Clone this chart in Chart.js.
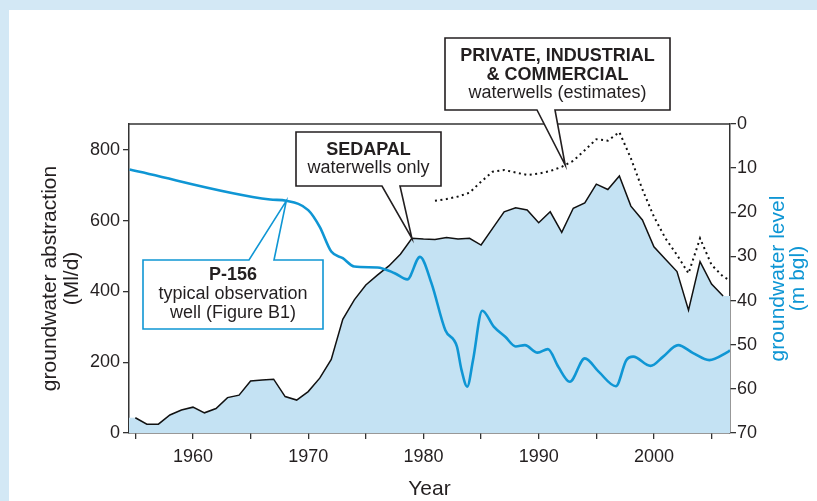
<!DOCTYPE html>
<html>
<head>
<meta charset="utf-8">
<title>Groundwater abstraction and level</title>
<script src="https://cdn.jsdelivr.net/npm/chart.js@4.4.1/dist/chart.umd.min.js"></script>
<style>
  html, body { margin: 0; padding: 0; background: #fff; }
  #wrap { width: 817px; height: 501px; }
</style>
</head>
<body>
<div id="wrap"><canvas id="chart" width="817" height="501"></canvas></div>
<script>
/* =========================
   DATA
========================= */
const sedapalYears = [1955, 1956, 1957, 1958, 1959, 1960, 1961, 1962, 1963, 1964, 1965, 1966, 1967, 1968, 1969, 1970,
  1971, 1972, 1973, 1974, 1975, 1976, 1977, 1978, 1979, 1980, 1981, 1982, 1983, 1984, 1985, 1986, 1987, 1988, 1989,
  1990, 1991, 1992, 1993, 1994, 1995, 1996, 1997, 1998, 1999, 2000, 2001, 2002, 2003, 2004, 2005, 2006];
const sedapalMld = [43, 25, 25, 51, 65, 73, 57, 69, 100, 107, 147, 150, 152, 103, 93, 117,
  155, 208, 321, 376, 418, 446, 472, 505, 550, 548, 547, 552, 548, 550, 531, 578, 625, 636, 630,
  594, 625, 567, 635, 650, 703, 688, 726, 641, 602, 526, 491, 456, 347, 484, 421, 387];

// sedapal + private, industrial & commercial (estimates)
const totalYears = [1981, 1982, 1983, 1984, 1985, 1986, 1987, 1988, 1989, 1990, 1991, 1992, 1993, 1994, 1995, 1996,
  1997, 1998, 1999, 2000, 2001, 2002, 2003, 2004, 2005, 2006, 2006.6];
const totalMld = [656, 661, 668, 679, 710, 738, 743, 736, 729, 733, 740, 752, 769, 799, 830, 826,
  850, 776, 688, 611, 550, 503, 451, 550, 475, 442, 431];

// P-156 observation well, m below ground level
const levelYears = [1954.5, 1966.7, 1968.1, 1970, 1971, 1972, 1973, 1974, 1976, 1977.5, 1978.6, 1979.7, 1980.7,
  1981.9, 1982.9, 1983.3, 1983.8, 1984.3, 1985.1, 1986.1, 1987.1, 1988, 1988.8, 1989.9, 1990.8, 1991.7, 1992.7,
  1994, 1995.2, 1996.7, 1997.6, 1998.2, 1999.7, 2000.8, 2002.1, 2003.4, 2004.8, 2006.3, 2006.6];
const levelMbgl = [10.3, 17.1, 17.4, 19.5, 23.3, 28.9, 30.4, 32.3, 32.5, 33.8, 35.2, 30.1, 36.1,
  46.7, 50.4, 55.7, 59.5, 53.5, 42.3, 45.9, 48.2, 50.4, 50.1, 51.8, 51.0, 55.0, 58.4,
  53.1, 56.1, 59.4, 53.5, 52.7, 54.8, 52.7, 50.1, 51.9, 53.5, 51.8, 51.3];

const yearTicks = [1955, 1960, 1965, 1970, 1975, 1980, 1985, 1990, 1995, 2000, 2005];
const yearLabels = ['1960', '1970', '1980', '1990', '2000'];
const abstractionTicks = [0, 200, 400, 600, 800];
const levelTicks = [0, 10, 20, 30, 40, 50, 60, 70];

const X_MIN = 1954.45, X_MAX = 2006.6;

const INK = '#231f20';
const BLUE = '#0f96d4';
const FONT = '"Liberation Sans", Arial, Helvetica, sans-serif';

const toPoints = (xs, ys) => xs.map((x, i) => ({ x, y: ys[i] }));

// fill under sedapal line runs out to both axes
const sedapalPts = toPoints(sedapalYears, sedapalMld);
const fillPts = [{ x: X_MIN, y: sedapalMld[0] }, ...sedapalPts, { x: X_MAX, y: sedapalMld[sedapalMld.length - 1] }];

/* =========================
   CALLOUT BOXES
========================= */
const callouts = [
  {
    lines: [['SEDAPAL', true], ['waterwells only', false]],
    box: [296, 132, 441, 186], side: 'bottom', base: [382, 400],
    at: [1979, 550], axis: 'y', color: INK, textY: 150, gap: 17.7
  },
  {
    lines: [['PRIVATE, INDUSTRIAL', true], ['& COMMERCIAL', true], ['waterwells (estimates)', false]],
    box: [445, 38, 670, 110], side: 'bottom', base: [537, 555],
    at: [1992.3, 757], axis: 'y', color: INK, textY: 56.5, gap: 18.4
  },
  {
    lines: [['P-156', true], ['typical observation', false], ['well (Figure B1)', false]],
    box: [143, 260, 323, 329], side: 'top', base: [249, 274],
    at: [1968.1, 17.4], axis: 'y2', color: BLUE, textY: 275, gap: 18.9
  }
];

function drawCallout(chart, c) {
  const { ctx } = chart;
  const tipX = chart.scales.x.getPixelForValue(c.at[0]);
  const tipY = chart.scales[c.axis].getPixelForValue(c.at[1]);
  const [l, t, r, b] = c.box;

  ctx.save();
  ctx.beginPath();
  if (c.side === 'bottom') {
    ctx.moveTo(l, t);
    ctx.lineTo(r, t);
    ctx.lineTo(r, b);
    ctx.lineTo(c.base[1], b);
    ctx.lineTo(tipX, tipY);
    ctx.lineTo(c.base[0], b);
    ctx.lineTo(l, b);
  } else {
    ctx.moveTo(l, t);
    ctx.lineTo(c.base[0], t);
    ctx.lineTo(tipX, tipY);
    ctx.lineTo(c.base[1], t);
    ctx.lineTo(r, t);
    ctx.lineTo(r, b);
    ctx.lineTo(l, b);
  }
  ctx.closePath();
  ctx.fillStyle = '#fff';
  ctx.fill();
  ctx.lineWidth = 1.6;
  ctx.lineJoin = 'miter';
  ctx.strokeStyle = c.color;
  ctx.stroke();

  ctx.fillStyle = INK;
  ctx.textAlign = 'center';
  ctx.textBaseline = 'middle';
  const cx = (l + r) / 2;
  c.lines.forEach(([txt, bold], i) => {
    ctx.font = (bold ? 'bold ' : '') + '18px ' + FONT;
    ctx.fillText(txt, cx, c.textY + i * c.gap);
  });
  ctx.restore();
}

const figurePlugin = {
  id: 'figure',
  beforeDraw(chart) {
    const { ctx, width, height } = chart;
    ctx.save();
    ctx.fillStyle = '#d3e8f5';
    ctx.fillRect(0, 0, width, height);
    ctx.fillStyle = '#fff';
    ctx.fillRect(9, 10, width - 9, height - 10);
    ctx.restore();
  },
  afterDraw(chart) {
    const { ctx, chartArea } = chart;
    ctx.save();
    // top frame line
    ctx.strokeStyle = '#333';
    ctx.lineWidth = 1.5;
    ctx.beginPath();
    ctx.moveTo(chartArea.left, chartArea.top);
    ctx.lineTo(chartArea.right, chartArea.top);
    ctx.stroke();

    // right axis title, reading upwards like the left one
    const midY = (chartArea.top + chartArea.bottom) / 2;
    ctx.fillStyle = BLUE;
    ctx.font = '21px ' + FONT;
    ctx.textAlign = 'center';
    ctx.textBaseline = 'middle';
    [['groundwater level', 778], ['(m bgl)', 798]].forEach(([txt, x]) => {
      ctx.save();
      ctx.translate(x, midY);
      ctx.rotate(-Math.PI / 2);
      ctx.fillText(txt, 0, 0);
      ctx.restore();
    });
    ctx.restore();

    callouts.forEach(c => drawCallout(chart, c));
  }
};

const axisGrid = { drawOnChartArea: false, drawTicks: true, tickLength: 6, color: '#333', lineWidth: 1.3 };
const axisBorder = { display: true, color: '#333', width: 1.5 };
const tickFont = { family: FONT, size: 18 };

new Chart(document.getElementById('chart'), {
  type: 'line',
  data: {
    datasets: [
      {
        label: 'P-156 groundwater level',
        data: toPoints(levelYears, levelMbgl),
        yAxisID: 'y2',
        borderColor: BLUE,
        borderWidth: 2.6,
        pointRadius: 0,
        cubicInterpolationMode: 'monotone',
        fill: false
      },
      {
        label: 'SEDAPAL waterwells',
        data: sedapalPts,
        yAxisID: 'y',
        borderColor: '#111',
        borderWidth: 1.5,
        pointRadius: 0,
        tension: 0,
        fill: false
      },
      {
        label: 'incl. private, industrial & commercial',
        data: toPoints(totalYears, totalMld),
        yAxisID: 'y',
        borderColor: '#111',
        borderWidth: 2,
        borderDash: [2, 3.5],
        pointRadius: 0,
        tension: 0,
        fill: false
      },
      {
        label: 'abstraction fill',
        data: fillPts,
        yAxisID: 'y',
        borderWidth: 0,
        borderColor: 'rgba(0,0,0,0)',
        backgroundColor: '#c4e2f3',
        pointRadius: 0,
        tension: 0,
        fill: 'origin'
      }
    ]
  },
  options: {
    responsive: false,
    animation: false,
    devicePixelRatio: 1,
    layout: { padding: { top: 124, left: 0, right: 0, bottom: 0 } },
    plugins: {
      legend: { display: false },
      tooltip: { enabled: false }
    },
    scales: {
      x: {
        type: 'linear',
        min: X_MIN,
        max: X_MAX,
        afterBuildTicks: (s) => { s.ticks = yearTicks.map(v => ({ value: v })); },
        afterFit: (s) => { s.height = 68; },
        grid: axisGrid,
        border: axisBorder,
        ticks: {
          padding: 7,
          color: INK,
          font: tickFont,
          maxRotation: 0,
          autoSkip: false,
          callback: (v) => yearLabels.includes(String(v)) ? String(v) : ''
        },
        title: {
          display: true,
          text: 'Year',
          color: INK,
          font: { family: FONT, size: 21, lineHeight: 1.05 },
          padding: { top: 0, bottom: 1 }
        }
      },
      y: {
        position: 'left',
        min: 0,
        max: 873,
        afterBuildTicks: (s) => { s.ticks = abstractionTicks.map(v => ({ value: v })); },
        afterFit: (s) => { s.width = 129; },
        grid: axisGrid,
        border: axisBorder,
        ticks: { padding: 3, color: INK, font: tickFont },
        title: {
          display: true,
          text: ['groundwater abstraction', '(Ml/d)'],
          color: INK,
          font: { family: FONT, size: 21, lineHeight: 1.05 },
          padding: { top: 39, bottom: 0 }
        }
      },
      y2: {
        position: 'right',
        reverse: true,
        min: 0,
        max: 70,
        afterBuildTicks: (s) => { s.ticks = levelTicks.map(v => ({ value: v })); },
        afterFit: (s) => { s.width = 87; },
        grid: axisGrid,
        border: axisBorder,
        ticks: { padding: 1, color: INK, font: tickFont }
      }
    }
  },
  plugins: [figurePlugin]
});
</script>
</body>
</html>
